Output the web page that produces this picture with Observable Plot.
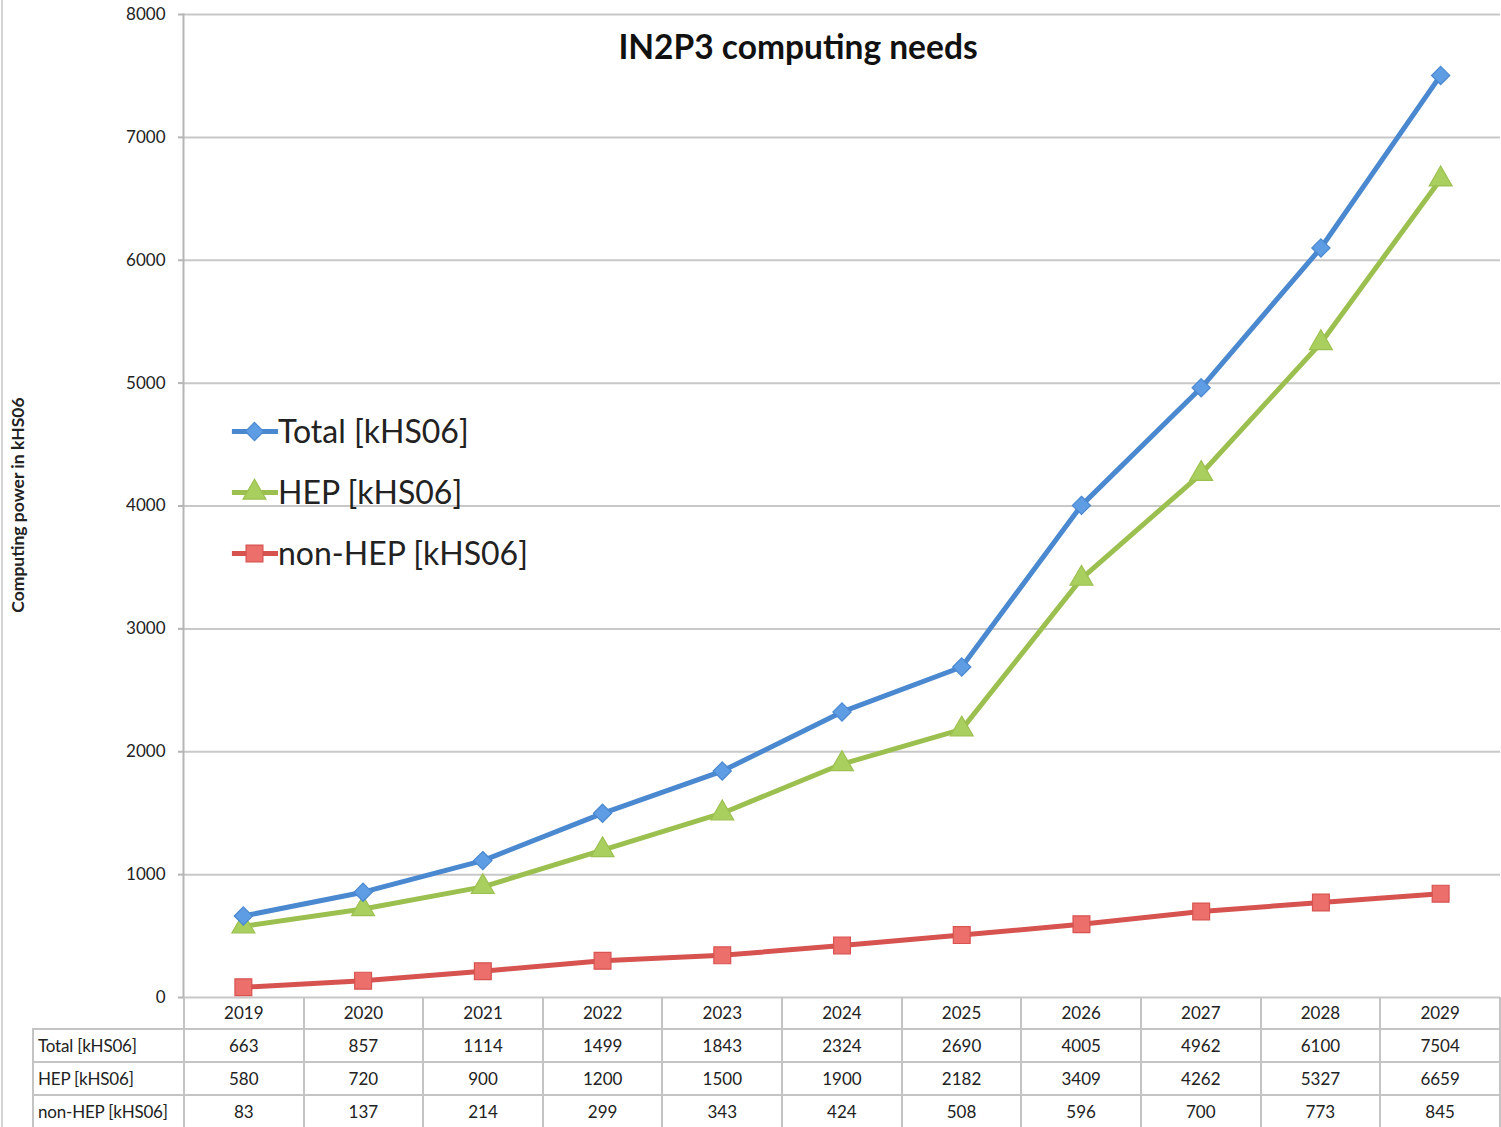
<!DOCTYPE html>
<html>
<head>
<meta charset="utf-8">
<script src="https://cdn.jsdelivr.net/npm/d3@7"></script>
<script src="https://cdn.jsdelivr.net/npm/@observablehq/plot@0.6"></script>
<style>
  html, body { margin: 0; padding: 0; background: #fff; }
  #wrap { position: relative; width: 1501px; height: 1127px; overflow: hidden; font-family: Lato, "Open Sans", sans-serif; color: #222; }
  #leftline { position: absolute; left: 1px; top: 0; width: 2px; height: 1127px; background: #d4d4d4; }
  #chart { position: absolute; left: 0; top: 0; }
  #title { position: absolute; left: 548px; width: 500px; top: 26px; text-align: center; font-weight: 700; font-size: 33.5px; color: #111; }
  #ylabel { position: absolute; left: 17px; top: 505px; transform: translate(-50%, -50%) rotate(-90deg); white-space: nowrap; font-weight: 700; font-size: 17.5px; color: #222; }
  #legend { position: absolute; left: 230px; top: 400px; }
  .li { display: flex; align-items: center; height: 61px; font-size: 32px; color: #222; }
  #table { position: absolute; left: 32px; top: 997px; border-collapse: collapse; table-layout: fixed; font-size: 17px; color: #222; }
  #table td { border: 2px solid #c4c4c4; text-align: center; padding: 0; height: 31px; white-space: nowrap; overflow: hidden; }
  #table td.lab { text-align: left; padding-left: 4px; font-size: 17px; letter-spacing: -0.2px; }
  #table td.blank { border-top: none; border-left: none; border-bottom: 2px solid #c4c4c4; }
</style>
</head>
<body>
<div id="wrap">
  <div id="chart"></div>
  <div id="leftline"></div>
  <div id="title">IN2P3 computing needs</div>
  <div id="ylabel">Computing power in kHS06</div>
  <div id="legend"></div>
  <table id="table"></table>
</div>
<script>
const years = ["2019","2020","2021","2022","2023","2024","2025","2026","2027","2028","2029"];
const seriesNames = ["Total [kHS06]", "HEP [kHS06]", "non-HEP [kHS06]"];
const total = [663, 857, 1114, 1499, 1843, 2324, 2690, 4005, 4962, 6100, 7504];
const hep = [580, 720, 900, 1200, 1500, 1900, 2182, 3409, 4262, 5327, 6659];
const nonHep = [83, 137, 214, 299, 343, 424, 508, 596, 700, 773, 845];
const yTicks = [0, 1000, 2000, 3000, 4000, 5000, 6000, 7000, 8000];
const colors = ["#4A88D0", "#9CC04F", "#D65350"];
const fills = ["#5E9DE4", "#A9CF5F", "#EC6F6C"];
const symbols = ["diamond2", "triangle", "square"];
const sizes = [8.2, 8.5, 9.5];

const seriesValues = [total, hep, nonHep];
const data = [];
seriesNames.forEach((s, i) => years.forEach((y, j) => data.push({series: s, year: y, value: seriesValues[i][j]})));

const plot = Plot.plot({
  width: 1501,
  height: 1000,
  marginLeft: 183,
  marginRight: 1,
  marginTop: 14,
  marginBottom: 3,
  style: {fontFamily: "Lato, 'Open Sans', sans-serif", background: "transparent", overflow: "visible"},
  x: {type: "point", domain: years, padding: 0.5, round: false, axis: null},
  y: {domain: [0, 8000], axis: null},
  color: {domain: seriesNames, range: colors},
  symbol: {domain: seriesNames, range: symbols},
  r: {type: "identity"},
  marks: [
    Plot.gridY(yTicks, {stroke: "#c8c8c8", strokeWidth: 2, strokeOpacity: 1}),
    Plot.axisY(yTicks, {tickSize: 5, tickPadding: 13, stroke: "#b5b5b5", strokeWidth: 2, fontSize: 17, fill: "#222", tickFormat: d => String(d), label: null}),
    Plot.frame({anchor: "left", stroke: "#b5b5b5", strokeWidth: 2}),
    Plot.line(data, {x: "year", y: "value", z: "series", stroke: "series", strokeWidth: 5, curve: "linear"}),
    Plot.dot(data, {x: "year", y: "value", symbol: "series", r: d => sizes[seriesNames.indexOf(d.series)], fill: d => fills[seriesNames.indexOf(d.series)], stroke: "series", strokeWidth: 1.2})
  ]
});
document.getElementById("chart").appendChild(plot);

// Legend
const legend = document.getElementById("legend");
seriesNames.forEach((s, i) => {
  const item = document.createElement("div");
  item.className = "li";
  const sw = Plot.plot({
    width: 48, height: 30, margin: 0,
    x: {domain: [0, 1], axis: null}, y: {domain: [0, 1], axis: null},
    r: {type: "identity"},
    style: {background: "transparent", overflow: "visible"},
    marks: [
      Plot.ruleY([0.5], {x1: 0.04, x2: 1, stroke: colors[i], strokeWidth: 5}),
      Plot.dot([0.5], {x: 0.5, y: 0.5, symbol: symbols[i], r: sizes[i], fill: fills[i], stroke: colors[i], strokeWidth: 1.2})
    ]
  });
  item.appendChild(sw);
  const t = document.createElement("span");
  t.textContent = s;
  item.appendChild(t);
  legend.appendChild(item);
});

// Data table
const table = document.getElementById("table");
const colgroup = document.createElement("colgroup");
const c0 = document.createElement("col"); c0.style.width = "151px"; colgroup.appendChild(c0);
years.forEach(() => { const c = document.createElement("col"); c.style.width = (1317 / years.length) + "px"; colgroup.appendChild(c); });
table.appendChild(colgroup);
const hdr = document.createElement("tr");
const blank = document.createElement("td"); blank.className = "blank"; hdr.appendChild(blank);
years.forEach(y => { const td = document.createElement("td"); td.textContent = y; td.style.borderTop = "none"; hdr.appendChild(td); });
table.appendChild(hdr);
seriesNames.forEach((s, i) => {
  const tr = document.createElement("tr");
  const lab = document.createElement("td"); lab.className = "lab"; lab.textContent = s; tr.appendChild(lab);
  seriesValues[i].forEach(v => { const td = document.createElement("td"); td.textContent = v; tr.appendChild(td); });
  table.appendChild(tr);
});
</script>
</body>
</html>
